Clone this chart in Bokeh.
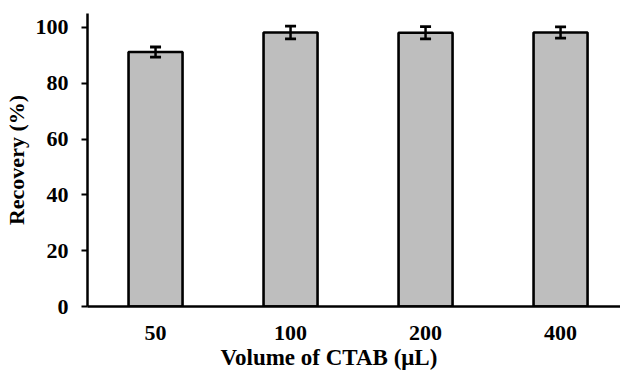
from bokeh.plotting import figure
from bokeh.models import Range1d, FixedTicker, ColumnDataSource, Whisker, TeeHead, Title
from bokeh.embed import file_html
from bokeh.resources import INLINE

categories = ["50", "100", "200", "400"]
recovery = [91.2, 98.2, 98.1, 98.2]
errors = [1.8, 2.3, 2.2, 2.0]
y_ticks = [0, 20, 40, 60, 80, 100]
x_title = "Volume of CTAB (\u03bcL)"
y_title = "Recovery (%)"

FONT = "Liberation Serif"
FS = "22px"

xs = list(range(len(categories)))
src = ColumnDataSource(dict(
    x=xs, top=recovery,
    upper=[v + e for v, e in zip(recovery, errors)],
    lower=[v - e for v, e in zip(recovery, errors)],
))

p = figure(width=620, height=377, output_backend="svg", toolbar_location=None,
           x_range=Range1d(-0.504, 3.444), y_range=Range1d(0, 105),
           min_border_left=87, min_border_right=0, min_border_top=13,
           min_border_bottom=71)
p.outline_line_color = None
p.background_fill_color = "white"
p.border_fill_color = "white"
p.grid.visible = False

p.vbar(x="x", top="top", width=0.4, bottom=0, source=src,
       fill_color="#BEBEBE", line_color="black", line_width=2.6)

w = Whisker(base="x", upper="upper", lower="lower", source=src,
            line_color="black", line_width=2.5, level="overlay",
            upper_head=TeeHead(size=11, line_color="black", line_width=2.8),
            lower_head=TeeHead(size=11, line_color="black", line_width=2.8))
p.add_layout(w)

# x axis
xa = p.xaxis[0]
xa.ticker = FixedTicker(ticks=xs)
xa.major_label_overrides = {i: c for i, c in enumerate(categories)}
xa.major_tick_line_color = None
xa.major_tick_out = 0
xa.minor_tick_line_color = None
xa.axis_line_width = 2.5
xa.axis_line_color = "black"
xa.major_label_standoff = 19
xa.major_label_text_font = FONT
xa.major_label_text_font_style = "bold"
xa.major_label_text_font_size = FS
xa.major_label_text_color = "black"

# y axis
ya = p.yaxis[0]
ya.ticker = FixedTicker(ticks=y_ticks)
ya.minor_tick_line_color = None
ya.major_tick_in = 0
ya.major_tick_out = 6
ya.major_tick_line_width = 2.2
ya.axis_line_width = 2.5
ya.axis_line_color = "black"
ya.major_label_standoff = 13
ya.major_label_text_font = FONT
ya.major_label_text_font_style = "bold"
ya.major_label_text_font_size = FS
ya.major_label_text_color = "black"
ya.axis_label = y_title
ya.axis_label_standoff = 4
ya.axis_label_text_font = FONT
ya.axis_label_text_font_style = "bold"
ya.axis_label_text_font_size = FS
ya.axis_label_text_color = "black"

p.add_layout(Title(text=x_title, align="left", offset=133, standoff=1,
                   text_font=FONT, text_font_style="bold", text_font_size="23px",
                   text_color="black"), "below")

open("out.html", "w").write(file_html(p, INLINE))
